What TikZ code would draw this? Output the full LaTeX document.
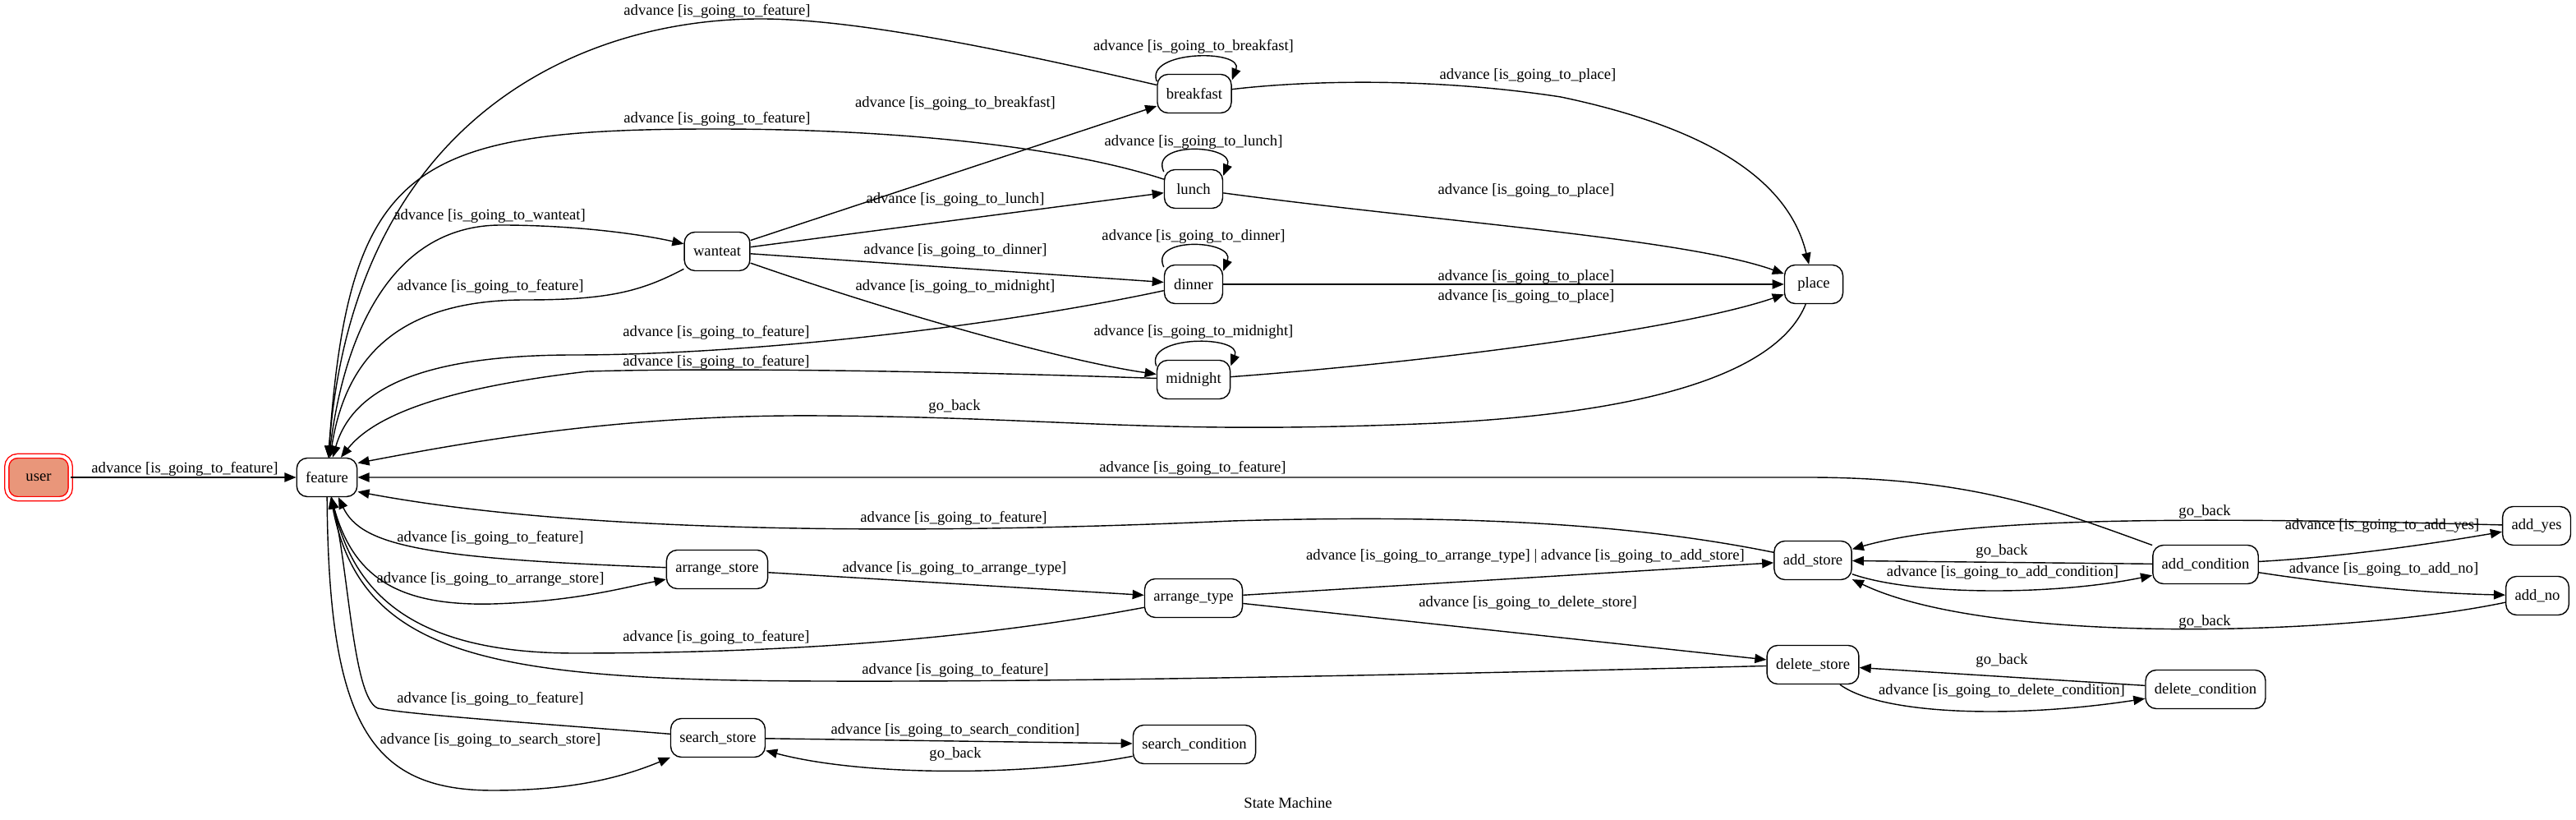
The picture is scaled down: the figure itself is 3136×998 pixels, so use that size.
\documentclass[tikz,border=0pt]{standalone}
\usepackage{fontspec}
\setmainfont{Liberation Serif}
\usetikzlibrary{arrows.meta,positioning}

\definecolor{startfill}{RGB}{233,150,122}

\begin{document}
\begin{tikzpicture}[x=0.01cm, y=-0.01cm, line width=0.4pt, >={Triangle[length=4pt,width=3.2pt]},
  state node/.style={rectangle,rounded corners=3.7pt,draw,minimum width=0.71cm,minimum height=0.47cm,inner xsep=3.1pt,inner ysep=0pt,font=\fontsize{5.3pt}{6pt}\selectfont},
  start node/.style={state node,draw=red,fill=startfill,double=white,double distance=1.05pt,minimum width=0.774cm,minimum height=0.52cm},
  trans label/.style={inner sep=0pt,font=\fontsize{5.3pt}{6pt}\selectfont}]
\useasboundingbox (0,0) rectangle (3136,998);
\begin{scope}
\node[start node] (user) at (47,581) {user};
\node[state node] (feature) at (398,581) {feature};
\node[state node] (breakfast) at (1454,114) {breakfast};
\node[state node] (lunch) at (1453,230) {lunch};
\node[state node] (wanteat) at (873,306) {wanteat};
\node[state node] (dinner) at (1453,346) {dinner};
\node[state node] (midnight) at (1453,462) {midnight};
\node[state node] (place) at (2208,346) {place};
\node[state node] (arrstore) at (873,693) {arrange\_store};
\node[state node] (arrtype) at (1453,728) {arrange\_type};
\node[state node] (addstore) at (2207,682) {add\_store};
\node[state node] (delstore) at (2207,809) {delete\_store};
\node[state node] (addcond) at (2685,687) {add\_condition};
\node[state node] (addyes) at (3088,640) {add\_yes};
\node[state node] (addno) at (3089,725) {add\_no};
\node[state node] (delcond) at (2685,839) {delete\_condition};
\node[state node] (searchstore) at (874,898) {search\_store};
\node[state node] (searchcond) at (1454,906) {search\_condition};
\node[trans label] (title) at (1568,977) {State Machine};
\end{scope}
\begin{scope}[->, every node/.style={trans label}]
\draw (user) -- (feature) node at (225,571) {advance [is\_going\_to\_feature]};
% meals
\draw (breakfast) .. controls (1250,67) and (1050,23) .. (926,23) .. controls (700,23) and (430,150) .. (feature) node at (873,14) {advance [is\_going\_to\_feature]};
\draw (lunch) .. controls (1300,180) and (1100,157) .. (870,157) .. controls (500,157) and (425,200) .. (feature) node at (873,145) {advance [is\_going\_to\_feature]};
\draw (feature) .. controls (415,420) and (470,274) .. (610,274) .. controls (700,274) and (780,285) .. (wanteat) node at (596,263) {advance [is\_going\_to\_wanteat]};
\draw (wanteat) .. controls (780,355) and (740,365) .. (640,365) .. controls (480,365) and (420,440) .. (feature) node at (597,349) {advance [is\_going\_to\_feature]};
\draw (wanteat) -- (breakfast) node at (1163,126) {advance [is\_going\_to\_breakfast]};
\draw (wanteat) -- (lunch) node at (1163,243) {advance [is\_going\_to\_lunch]};
\draw (wanteat) -- (dinner) node at (1163,305) {advance [is\_going\_to\_dinner]};
\draw (wanteat) .. controls (1100,385) and (1300,440) .. (midnight) node at (1163,349) {advance [is\_going\_to\_midnight]};
\draw (breakfast.162) .. controls +(-15,-38) and +(15,-38) .. (breakfast.20) node at (1453,57) {advance [is\_going\_to\_breakfast]};
\draw (lunch.150) .. controls +(-18,-38) and +(15,-38) .. (lunch.24) node at (1453,173) {advance [is\_going\_to\_lunch]};
\draw (dinner.150) .. controls +(-18,-38) and +(15,-38) .. (dinner.24) node at (1453,288) {advance [is\_going\_to\_dinner]};
\draw (midnight.160) .. controls +(-15,-38) and +(15,-38) .. (midnight.20) node at (1453,404) {advance [is\_going\_to\_midnight]};
\draw (dinner) .. controls (1200,400) and (900,432) .. (700,432) .. controls (520,432) and (430,470) .. (feature) node at (872,405) {advance [is\_going\_to\_feature]};
\draw (midnight) .. controls (1100,450) and (850,448) .. (716,452) .. controls (560,470) and (460,500) .. (feature.55) node at (872,441) {advance [is\_going\_to\_feature]};
\draw (breakfast) .. controls (1600,97) and (1750,95) .. (1900,118) .. controls (2100,160) and (2180,230) .. (place) node at (1860,92) {advance [is\_going\_to\_place]};
\draw (lunch) .. controls (1750,270) and (2050,290) .. (place) node at (1858,232) {advance [is\_going\_to\_place]};
\draw (dinner) -- (place) node at (1858,337) {advance [is\_going\_to\_place]};
\draw (midnight) .. controls (1750,440) and (2050,400) .. (place) node at (1858,361) {advance [is\_going\_to\_place]};
\draw (place) .. controls (2170,440) and (2050,500) .. (1750,515) .. controls (1400,530) and (1300,508) .. (1000,506) .. controls (750,504) and (560,540) .. (feature.25) node at (1162,495) {go\_back};
% stores
\draw (addcond) .. controls (2500,620) and (2400,581) .. (2200,581) -- (feature) node at (1452,570) {advance [is\_going\_to\_feature]};
\draw (addstore) .. controls (2000,640) and (1800,625) .. (1500,634) .. controls (1100,652) and (700,648) .. (feature.-25) node at (1161,631) {advance [is\_going\_to\_feature]};
\draw (arrstore) .. controls (520,680) and (440,665) .. (feature.-60) node at (597,655) {advance [is\_going\_to\_feature]};
\draw (feature) .. controls (425,700) and (480,738) .. (600,735) .. controls (700,732) and (760,715) .. (arrstore) node at (597,705) {advance [is\_going\_to\_arrange\_store]};
\draw (arrstore) -- (arrtype) node at (1162,692) {advance [is\_going\_to\_arrange\_type]};
\draw (arrtype) .. controls (1150,785) and (900,795) .. (700,795) .. controls (500,795) and (430,720) .. (feature) node at (872,776) {advance [is\_going\_to\_feature]};
\draw (arrtype) -- (addstore) node at (1857,677) {advance [is\_going\_to\_arrange\_type] | advance [is\_going\_to\_add\_store]};
\draw (arrtype) -- (delstore) node at (1860,734) {advance [is\_going\_to\_delete\_store]};
\draw (delstore) .. controls (1700,822) and (1300,830) .. (1000,829) .. controls (600,828) and (440,800) .. (feature) node at (1163,816) {advance [is\_going\_to\_feature]};
\draw (searchstore) .. controls (650,880) and (500,870) .. (460,862) .. controls (430,850) and (425,700) .. (feature) node at (597,851) {advance [is\_going\_to\_feature]};
\draw (feature) .. controls (400,880) and (450,962) .. (600,962) .. controls (700,962) and (760,945) .. (searchstore) node at (597,901) {advance [is\_going\_to\_search\_store]};
\draw (searchstore) -- (searchcond) node at (1163,889) {advance [is\_going\_to\_search\_condition]};
\draw (searchcond) .. controls (1250,945) and (1050,945) .. (searchstore) node at (1163,918) {go\_back};
\draw (addstore) .. controls (2330,725) and (2500,725) .. (addcond) node at (2438,697) {advance [is\_going\_to\_add\_condition]};
\draw (addcond) -- (addstore) node at (2437,671) {go\_back};
\draw (addcond) .. controls (2850,678) and (2960,662) .. (addyes) node at (2900,640) {advance [is\_going\_to\_add\_yes]};
\draw (addyes) .. controls (2700,630) and (2400,627) .. (addstore) node at (2684,623) {go\_back};
\draw (addcond) .. controls (2850,712) and (2950,722) .. (addno) node at (2902,693) {advance [is\_going\_to\_add\_no]};
\draw (addno) .. controls (2850,775) and (2420,785) .. (addstore) node at (2684,757) {go\_back};
\draw (delstore) .. controls (2290,870) and (2450,875) .. (delcond) node at (2437,841) {advance [is\_going\_to\_delete\_condition]};
\draw (delcond) -- (delstore) node at (2437,804) {go\_back};
\end{scope}
\end{tikzpicture}
\end{document}
